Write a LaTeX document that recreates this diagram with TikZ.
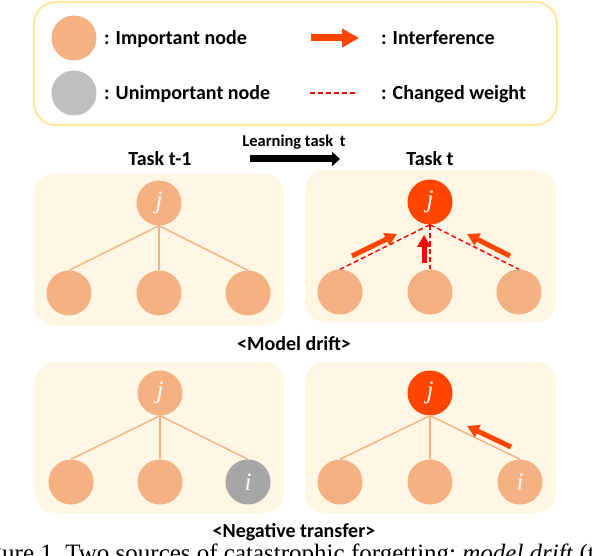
\documentclass[tikz,border=0pt]{standalone}
\usepackage{fontspec}
\setmainfont{Carlito}
\newfontfamily\serifface{Liberation Serif}
\usetikzlibrary{shapes.geometric,arrows.meta}
\definecolor{nodeorange}{HTML}{F4B183}
\definecolor{nodegray}{HTML}{BFBFBF}
\definecolor{nodegraydark}{HTML}{A6A6A6}
\definecolor{hotred}{HTML}{FF4500}
\definecolor{panelbg}{HTML}{FFF6E3}
\definecolor{legendline}{HTML}{FFE699}

\begin{document}
\begin{tikzpicture}[x=1pt,y=-1pt,
    unit/.style={circle,fill=nodeorange,minimum size=45pt,inner sep=0pt,text=white,font=\serifface\itshape\fontsize{25}{25}\selectfont},
    panel/.style={fill=panelbg,rounded corners=20pt},
    lbl/.style={font=\bfseries\fontsize{20}{24}\selectfont,inner sep=0pt},
    wire/.style={nodeorange,line width=1.4pt},
    changed/.style={red,line width=1.4pt,dash pattern=on 5pt off 3pt},
    push/.style={hotred,line width=5pt,-{Triangle[length=12pt,width=13pt]}}]
    \useasboundingbox (0,0) rectangle (592,556);

    % legend
    \draw[legendline,line width=2pt,fill=white,rounded corners=22pt] (34,2) rectangle (557,125);
    \node[unit] (keyimp) at (74,38) {};
    \node[unit,fill=nodegray] (keyunimp) at (74,93) {};
    \node[lbl,anchor=base west] (keyimptext) at (104,45) {: Important node};
    \node[lbl,anchor=base west] (keyunimptext) at (104,100) {: Unimportant node};
    \coordinate (keyarrowA) at (311,38);
    \coordinate (keyarrowB) at (359,38);
    \draw[hotred,line width=7pt,-{Triangle[length=17pt,width=18pt]}] (keyarrowA) -- (keyarrowB);
    \coordinate (keydashA) at (310,93);
    \coordinate (keydashB) at (357,93);
    \draw[changed] (keydashA) -- (keydashB);
    \node[lbl,anchor=base west] (keyarrowtext) at (381,45) {: Interference};
    \node[lbl,anchor=base west] (keydashtext) at (381,100) {: Changed weight};

    % titles
    \node[lbl,anchor=base] (oldtask) at (160,166) {Task t-1};
    \node[lbl,anchor=base] (newtask) at (430,166) {Task t};
    \node[lbl,anchor=base,font=\bfseries\fontsize{16.5}{20}\selectfont] (learning) at (294,147) {Learning task\hspace{3pt} t};
    \coordinate (learnA) at (250,159);
    \coordinate (learnB) at (340,159);
    \draw[line width=7pt,-{Triangle[length=8pt,width=14pt]}] (learnA) -- (learnB);

    % model drift
    \fill[panel] (34,174) rectangle (284,325);
    \fill[panel] (305,171) rectangle (556,322);
    \node[unit] (jA) at (159,203) {j};
    \node[unit] (a1) at (69,293) {};
    \node[unit] (a2) at (159,293) {};
    \node[unit] (a3) at (248,293) {};
    \foreach \k in {a1,a2,a3} \draw[wire] (jA.south) -- (\k.north);
    \node[unit,fill=hotred] (jB) at (430,202) {j};
    \node[unit] (b1) at (340,292) {};
    \node[unit] (b2) at (430,292) {};
    \node[unit] (b3) at (519,292) {};
    \foreach \k in {b1,b2,b3} \draw[changed] (jB.south) -- (\k.north);
    \draw[push] (352,256) -- (397,234);
    \draw[push,red] (424,263) -- (424,235);
    \draw[push] (510,256) -- (467,234);
    \node[lbl,anchor=base] (drift) at (294,350) {<Model drift>};

    % negative transfer
    \fill[panel] (35,362) rectangle (284,513);
    \fill[panel] (305,362) rectangle (556,513);
    \node[unit] (jC) at (160,393) {j};
    \node[unit] (c1) at (71,482) {};
    \node[unit] (c2) at (160,482) {};
    \node[unit,fill=nodegraydark] (c3) at (248,482) {i};
    \foreach \k in {c1,c2,c3} \draw[wire] (jC.south) -- (\k.north);
    \node[unit,fill=hotred] (jD) at (430,393) {j};
    \node[unit] (d1) at (340,482) {};
    \node[unit] (d2) at (430,482) {};
    \node[unit] (d3) at (520,482) {i};
    \foreach \k in {d1,d2,d3} \draw[wire] (jD.south) -- (\k.north);
    \draw[push] (511,447) -- (467,426);
    \node[lbl,anchor=base] (transfer) at (294,537) {<Negative transfer>};

    % caption, cut off by the page
    \node[anchor=base west,inner sep=0pt,font=\serifface\fontsize{25}{30}\selectfont] (caption) at (2,561)
        {\frenchspacing\llap{Fig}ure 1. Two sources of catastrophic forgetting: \textit{model drift} (top) and};
\end{tikzpicture}
\end{document}
